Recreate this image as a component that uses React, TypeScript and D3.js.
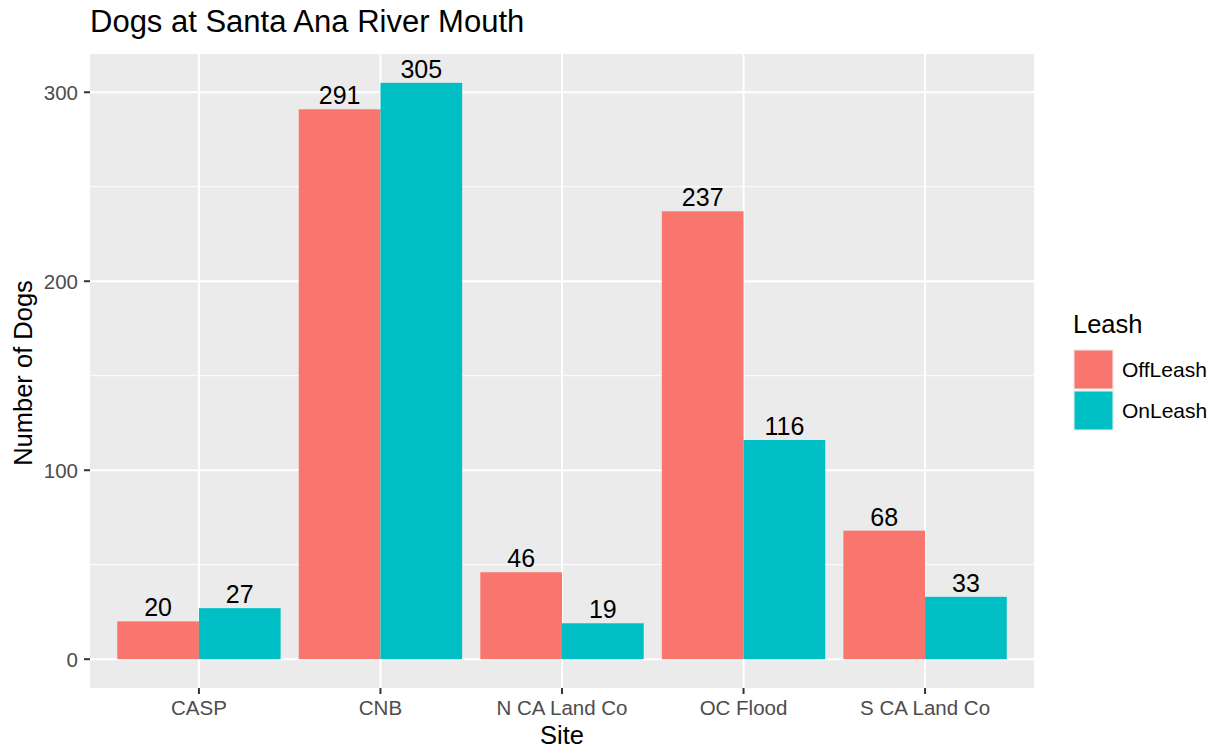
import React from "react";
import * as d3 from "d3";

const sites = ["CASP", "CNB", "N CA Land Co", "OC Flood", "S CA Land Co"];
const leashTypes = ["OffLeash", "OnLeash"];
const offLeash = [20, 291, 46, 237, 68];
const onLeash = [27, 305, 19, 116, 33];
const yTicks = [0, 100, 200, 300];
const yMinor = [50, 150, 250];
const colors = ["#F8766D", "#00BFC4"];

const W = 1224;
const H = 749;
const FONT = "'Liberation Sans', Arial, Helvetica, sans-serif";

const App = () => {
  const panel = { left: 90, right: 1034, top: 54, bottom: 688 };

  // ggplot: discrete expansion 0.6 on each side, bar width 0.9
  const unit = (panel.right - panel.left) / (sites.length - 1 + 1.2);
  const x = d3
    .scalePoint()
    .domain(sites)
    .range([panel.left + 0.6 * unit, panel.right - 0.6 * unit]);

  const maxV = d3.max([...offLeash, ...onLeash]);
  const pad = maxV * 0.05;
  const y = d3.scaleLinear().domain([-pad, maxV + pad]).range([panel.bottom, panel.top]);

  const sub = d3.scaleBand().domain(leashTypes).range([-0.45 * unit, 0.45 * unit]);

  const series = [offLeash, onLeash];

  return (
    <svg width={W} height={H} style={{ position: "absolute", left: 0, top: 0, background: "#fff" }}>
      <rect x={panel.left} y={panel.top} width={panel.right - panel.left} height={panel.bottom - panel.top} fill="#EBEBEB" />
      {yMinor.map((v) => (
        <line key={"m" + v} x1={panel.left} x2={panel.right} y1={y(v)} y2={y(v)} stroke="#fff" strokeWidth={1} />
      ))}
      {yTicks.map((v) => (
        <line key={"g" + v} x1={panel.left} x2={panel.right} y1={y(v)} y2={y(v)} stroke="#fff" strokeWidth={2} />
      ))}
      {sites.map((s) => (
        <line key={"gx" + s} x1={x(s)} x2={x(s)} y1={panel.top} y2={panel.bottom} stroke="#fff" strokeWidth={2} />
      ))}

      {leashTypes.map((lt, li) =>
        sites.map((s, si) => {
          const v = series[li][si];
          const bx = x(s) + sub(lt);
          return (
            <g key={lt + s}>
              <rect x={bx} y={y(v)} width={sub.bandwidth()} height={y(0) - y(v)} fill={colors[li]} />
              <text
                x={bx + sub.bandwidth() / 2}
                y={y(v) - 5}
                textAnchor="middle"
                fontFamily={FONT}
                fontSize={25}
                fill="#000"
              >
                {v}
              </text>
            </g>
          );
        })
      )}

      {/* y axis */}
      {yTicks.map((v) => (
        <g key={"yt" + v}>
          <line x1={panel.left - 6} x2={panel.left} y1={y(v)} y2={y(v)} stroke="#333" strokeWidth={2} />
          <text x={panel.left - 12} y={y(v)} dy="0.36em" textAnchor="end" fontFamily={FONT} fontSize={20.5} fill="#4D4D4D">
            {v}
          </text>
        </g>
      ))}
      {/* x axis */}
      {sites.map((s) => (
        <g key={"xt" + s}>
          <line x1={x(s)} x2={x(s)} y1={panel.bottom} y2={panel.bottom + 6} stroke="#333" strokeWidth={2} />
          <text x={x(s)} y={panel.bottom + 27} textAnchor="middle" fontFamily={FONT} fontSize={20.5} fill="#4D4D4D">
            {s}
          </text>
        </g>
      ))}

      <text x={(panel.left + panel.right) / 2} y={744} textAnchor="middle" fontFamily={FONT} fontSize={25.5} fill="#000">
        Site
      </text>
      <text
        transform={`translate(32, ${(panel.top + panel.bottom) / 2 + 2}) rotate(-90)`}
        textAnchor="middle"
        fontFamily={FONT}
        fontSize={25.5}
        fill="#000"
      >
        Number of Dogs
      </text>
      <text x={panel.left} y={32} fontFamily={FONT} fontSize={31} fill="#000">
        Dogs at Santa Ana River Mouth
      </text>

      {/* legend */}
      <text x={1073} y={333} fontFamily={FONT} fontSize={25.5} fill="#000">
        Leash
      </text>
      {leashTypes.map((lt, i) => (
        <g key={"lg" + lt} transform={`translate(1073, ${349 + i * 41})`}>
          <rect x={0} y={0} width={41} height={41} fill="#F2F2F2" />
          <rect x={1.5} y={1.5} width={38} height={38} fill={colors[i]} />
          <text x={49} y={20.5} dy="0.36em" fontFamily={FONT} fontSize={21} fill="#000">
            {lt}
          </text>
        </g>
      ))}
    </svg>
  );
};

export default App;
